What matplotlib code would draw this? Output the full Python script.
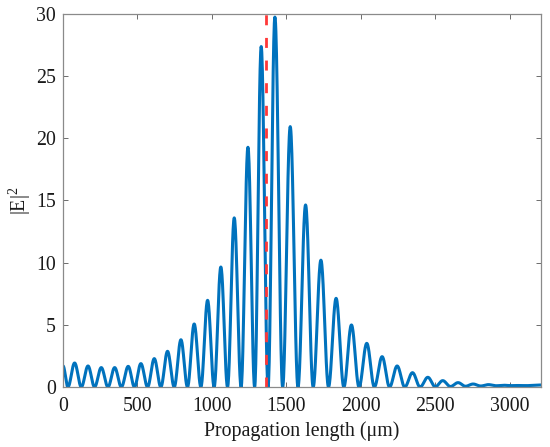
import numpy as np
import matplotlib
matplotlib.use('Agg')
import matplotlib.pyplot as plt

plt.rcParams['font.family'] = ['Liberation Serif', 'DejaVu Serif']
plt.rcParams['lines.scale_dashes'] = False

# field intensity: start value, troughs and peaks
x_start, h_start = 0, 1.7
x_end, h_end = 3210, 0.16

peak_x = [78, 168, 257, 347, 438, 523, 613, 702, 792, 881, 971, 1060, 1150,
          1242, 1331, 1423, 1526, 1629, 1732, 1834, 1937, 2040, 2143, 2244,
          2347, 2450, 2550, 2653, 2754, 2857, 2960, 3060]
peak_h = [1.93, 1.69, 1.56, 1.56, 1.66, 1.88, 2.28, 2.87, 3.8, 5.07, 6.97,
          9.65, 13.6, 19.28, 27.38, 29.75, 20.94, 14.64, 10.2, 7.13, 4.99,
          3.51, 2.44, 1.69, 1.15, 0.78, 0.51, 0.35, 0.24, 0.19, 0.14, 0.12]
trough_x = [33, 123, 212, 302, 392, 480, 568, 657, 747, 836, 926, 1015, 1105,
            1196, 1287, 1377, 1475, 1578, 1680, 1783, 1886, 1988, 2091, 2193,
            2295, 2398, 2500, 2602, 2703, 2805, 2908, 3010, 3110]
trough_h = [0]*26 + [0.02, 0.04, 0.06, 0.08, 0.1, 0.11, 0.11]

focus_x = 1360  # dashed marker

# chain extremes in order
kx = [x_start]
kh = [h_start]
for i in range(len(peak_x)):
    kx += [trough_x[i], peak_x[i]]
    kh += [trough_h[i], peak_h[i]]
kx += [trough_x[-1], x_end]
kh += [trough_h[-1], h_end]

# smooth lobes between successive extremes
xs, ys = [], []
for i in range(len(kx)-1):
    t = np.linspace(0, 1, 25)
    xs.append(kx[i] + (kx[i+1]-kx[i])*t)
    ys.append(kh[i] + (kh[i+1]-kh[i])*(1-np.cos(np.pi*t))/2)
xs = np.concatenate(xs)
ys = np.concatenate(ys)

fig = plt.figure(figsize=(5.5, 4.47), dpi=100)
ax = fig.add_axes([63/550, 60/447, 478/550, 373/447])
ax.plot(xs, ys, color='#0072BD', lw=2.2)
ax.plot([focus_x, focus_x], [0, 30], color='#ff3838', lw=2.0, dashes=(7.2, 9.1))

ax.set_xlim(0, 3210)
ax.set_ylim(0, 30)
ax.set_xticks([0, 500, 1000, 1500, 2000, 2500, 3000])
ax.set_yticks([0, 5, 10, 15, 20, 25, 30])
ax.tick_params(direction='in', top=True, right=True, length=3.5, width=0.6,
               labelsize=14.3, color='#555555', labelcolor='#1a1a1a')
ax.tick_params(axis='x', pad=7)
ax.tick_params(axis='y', pad=5)
for s in ax.spines.values():
    s.set_color('#8a8a8a')
    s.set_linewidth(0.9)
ax.set_xlabel('Propagation length (μm)', fontsize=14.3, color='#1a1a1a', labelpad=4)
ax.set_ylabel('$\\mathregular{|E|^2}$', fontsize=14.3, color='#1a1a1a', labelpad=2)

fig.savefig('out.png', dpi=100)
